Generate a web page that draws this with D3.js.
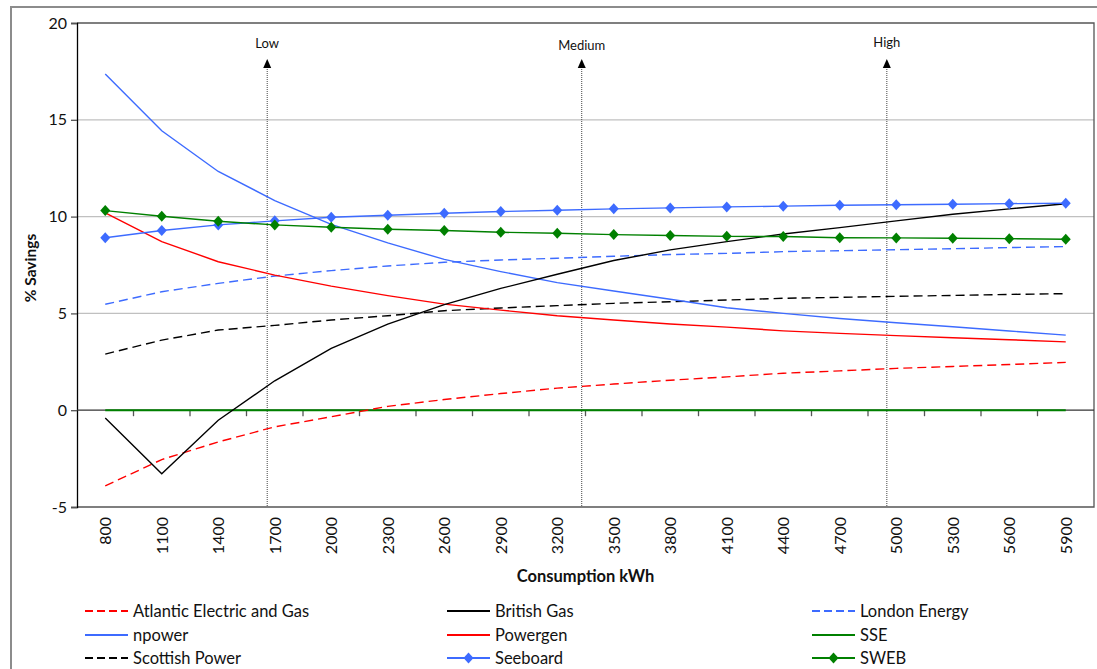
<!DOCTYPE html>
<html>
<head>
<meta charset="utf-8">
<script src="https://cdn.jsdelivr.net/npm/d3@7/dist/d3.min.js"></script>
<style>
  html, body { margin: 0; padding: 0; background: #fff; }
  svg { display: block; font-family: Lato, "Open Sans", sans-serif; }
</style>
</head>
<body>
<svg id="chart" width="1097" height="669"></svg>
<script>
// ---------------- DATA ----------------
const categories = ["800","1100","1400","1700","2000","2300","2600","2900","3200","3500","3800","4100","4400","4700","5000","5300","5600","5900"];

const atlantic     = [-3.91,-2.55,-1.64,-0.86,-0.34,0.20,0.55,0.86,1.14,1.35,1.55,1.72,1.91,2.03,2.16,2.26,2.36,2.47];
const britishGas   = [-0.40,-3.28,-0.52,1.52,3.19,4.45,5.45,6.29,7.02,7.73,8.28,8.71,9.10,9.43,9.78,10.12,10.40,10.66];
const londonEnergy = [5.47,6.12,6.55,6.93,7.21,7.45,7.64,7.76,7.85,7.95,8.04,8.10,8.19,8.24,8.29,8.34,8.40,8.45];
const npower       = [17.37,14.43,12.33,10.83,9.60,8.64,7.79,7.16,6.59,6.16,5.73,5.29,5.00,4.74,4.52,4.31,4.09,3.88];
const powergen     = [10.19,8.71,7.67,6.98,6.41,5.92,5.48,5.17,4.88,4.66,4.45,4.29,4.10,3.97,3.85,3.74,3.64,3.53];
const sse          = [0,0,0,0,0,0,0,0,0,0,0,0,0,0,0,0,0,0];
const scottishPower= [2.90,3.62,4.14,4.38,4.66,4.88,5.14,5.28,5.40,5.52,5.60,5.69,5.78,5.83,5.88,5.93,5.98,6.02];
const seeboard     = [8.91,9.28,9.57,9.78,9.97,10.07,10.17,10.26,10.33,10.40,10.45,10.50,10.54,10.59,10.61,10.64,10.67,10.69];
const sweb         = [10.31,10.02,9.76,9.57,9.45,9.35,9.28,9.19,9.14,9.07,9.02,8.98,8.97,8.91,8.90,8.88,8.86,8.83];

const seriesNames = ["Atlantic Electric and Gas","British Gas","London Energy","npower","Powergen","SSE","Scottish Power","Seeboard","SWEB"];
const seriesValues = [atlantic, britishGas, londonEnergy, npower, powergen, sse, scottishPower, seeboard, sweb];

const yTicks = [-5, 0, 5, 10, 15, 20];
const gridValues = [5, 10, 15];

const bandNames = ["Low","Medium","High"];
const bandKwh = [1660, 3330, 4950];

// ---------------- STYLE ----------------
const RED = "#ff0000", BLUE = "#3d6bff", GREEN = "#008000", BLACK = "#000000";
const styles = {
  "Atlantic Electric and Gas": {color: RED, dash: "9,5", marker: false},
  "British Gas": {color: BLACK, dash: null, marker: false},
  "London Energy": {color: BLUE, dash: "9,5", marker: false},
  "npower": {color: BLUE, dash: null, marker: false},
  "Powergen": {color: RED, dash: null, marker: false},
  "SSE": {color: GREEN, dash: null, marker: false, width: 2},
  "Scottish Power": {color: BLACK, dash: "9,5", marker: false},
  "Seeboard": {color: BLUE, dash: null, marker: true},
  "SWEB": {color: GREEN, dash: null, marker: true}
};
const drawOrder = ["SSE","Atlantic Electric and Gas","Scottish Power","London Energy","Powergen","npower","British Gas","Seeboard","SWEB"];

// ---------------- CHART ----------------
const svg = d3.select("#chart");
const plot = {left: 77, right: 1094, top: 23, bottom: 507};

// outer frame
svg.append("rect").attr("x", 11).attr("y", 7).attr("width", 1100).attr("height", 700)
  .attr("fill", "#fff").attr("stroke", "#8c8c8c").attr("stroke-width", 2);

const x = d3.scaleBand().domain(categories).range([plot.left, plot.right]).padding(0);
const xc = c => x(c) + x.bandwidth() / 2;
const xk = d3.scaleLinear().domain([+categories[0], +categories[categories.length-1]])
  .range([xc(categories[0]), xc(categories[categories.length-1])]);
const y = d3.scaleLinear().domain([-5, 20]).range([plot.bottom, plot.top]);

// gridlines
svg.append("g").selectAll("line").data(gridValues).join("line")
  .attr("x1", plot.left).attr("x2", plot.right)
  .attr("y1", d => y(d)).attr("y2", d => y(d))
  .attr("stroke", "#c0c0c0").attr("stroke-width", 1.3);

// plot frame (top, right, bottom)
svg.append("path")
  .attr("d", `M${plot.left},${y(20)}H${plot.right}V${y(-5)}H${plot.left}`)
  .attr("fill", "none").attr("stroke", "#555").attr("stroke-width", 1.3);

// y axis
const yAxis = d3.axisLeft(y).tickValues(yTicks).tickSize(6).tickPadding(4).tickFormat(d => String(d));
const gy = svg.append("g").attr("transform", `translate(${plot.left},0)`).call(yAxis);
gy.select(".domain").attr("stroke", "#000").attr("stroke-width", 1.3);
gy.selectAll(".tick line").attr("stroke", "#555").attr("stroke-width", 1.3);
gy.selectAll(".tick text").attr("font-size", 16).attr("fill", "#111").attr("font-family", "Lato, sans-serif");

// x axis at zero line
const gx = svg.append("g").attr("transform", `translate(0,${y(0)})`);
gx.append("line").attr("x1", plot.left).attr("x2", plot.right).attr("y1", 0).attr("y2", 0)
  .attr("stroke", "#333").attr("stroke-width", 1.3);
gx.selectAll("line.tk").data(categories.slice(1)).join("line").attr("class", "tk")
  .attr("x1", d => x(d)).attr("x2", d => x(d)).attr("y1", 0).attr("y2", 6)
  .attr("stroke", "#555").attr("stroke-width", 1.3);

// x labels (rotated) under the plot
svg.append("g").selectAll("text").data(categories).join("text")
  .attr("transform", d => `translate(${xc(d) + 6},${plot.bottom + 10}) rotate(-90)`)
  .attr("text-anchor", "end")
  .attr("font-size", 16).attr("fill", "#111")
  .text(d => d);

// axis titles
svg.append("text")
  .attr("x", (plot.left + plot.right) / 2).attr("y", 582)
  .attr("text-anchor", "middle").attr("font-size", 16.5).attr("font-weight", "bold").attr("fill", "#111")
  .text("Consumption kWh");
svg.append("text")
  .attr("transform", `translate(36,${(plot.top + plot.bottom) / 2 + 3}) rotate(-90)`)
  .attr("text-anchor", "middle").attr("font-size", 15.5).attr("font-weight", "bold").attr("fill", "#111")
  .text("% Savings");

// consumption band markers
const labelBase = {"Low": 48, "Medium": 50, "High": 47};
const bands = svg.append("g");
bandNames.forEach((name, i) => {
  const bx = xk(bandKwh[i]);
  bands.append("line").attr("x1", bx).attr("x2", bx).attr("y1", 67).attr("y2", plot.bottom)
    .attr("stroke", "#444").attr("stroke-width", 1).attr("stroke-dasharray", "1,1");
  bands.append("path").attr("d", `M${bx},59L${bx + 4},68L${bx - 4},68Z`).attr("fill", "#000");
  bands.append("text").attr("x", bx).attr("y", labelBase[name]).attr("text-anchor", "middle")
    .attr("font-size", 13).attr("fill", "#111").text(name);
});

// series lines
const line = d3.line().x((d, i) => xc(categories[i])).y(d => y(d));
const diamondPath = "M0,-5.5L5,0L0,5.5L-5,0Z";
const gSeries = svg.append("g");
drawOrder.forEach(name => {
  const idx = seriesNames.indexOf(name);
  const vals = seriesValues[idx];
  const st = styles[name];
  gSeries.append("path").datum(vals)
    .attr("d", line).attr("fill", "none")
    .attr("stroke", st.color).attr("stroke-width", st.width || 1.4)
    .attr("stroke-dasharray", st.dash);
  if (st.marker) {
    gSeries.append("g").selectAll("path").data(vals).join("path")
      .attr("d", diamondPath)
      .attr("transform", (d, i) => `translate(${xc(categories[i])},${y(d)})`)
      .attr("fill", st.color);
  }
});

// legend
const legCols = [85, 447, 812];
const legRows = [611, 635, 658];
const legend = svg.append("g");
seriesNames.forEach((name, i) => {
  const lx = legCols[i % 3], ly = legRows[Math.floor(i / 3)];
  const st = styles[name];
  legend.append("line").attr("x1", lx).attr("x2", lx + 43).attr("y1", ly).attr("y2", ly)
    .attr("stroke", st.color).attr("stroke-width", st.dash ? 1.8 : 2)
    .attr("stroke-dasharray", st.dash ? "8,4" : null);
  if (st.marker) {
    legend.append("path").attr("d", diamondPath).attr("transform", `translate(${lx + 21.5},${ly})`).attr("fill", st.color);
  }
  legend.append("text").attr("x", lx + 48).attr("y", ly + 5.5)
    .attr("font-size", 16.5).attr("fill", "#111").text(name);
});
</script>
</body>
</html>
